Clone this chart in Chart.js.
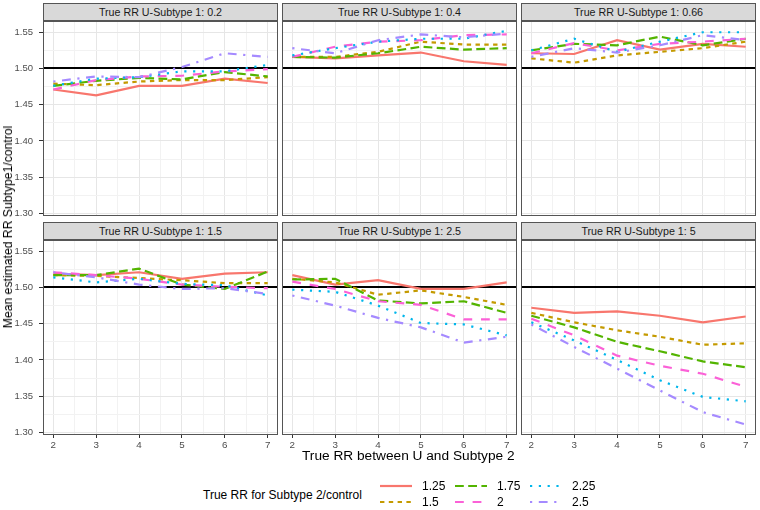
<!DOCTYPE html>
<html>
<head>
<meta charset="utf-8">
<script src="https://cdn.jsdelivr.net/npm/chart.js@4.4.1/dist/chart.umd.min.js"></script>
<style>
body { margin: 0; background: #fff; }
#wrap { position: relative; width: 760px; height: 510px; overflow: hidden; background: #fff;
        font-family: "Liberation Sans", Arial, sans-serif; }
.strip { position: absolute; height: 18px; box-sizing: border-box; border: 1px solid #555;
         background: #d9d9d9; color: #1a1a1a; font-size: 10.7px; line-height: 16px; text-align: center; }
canvas { position: absolute; }
.title { position: absolute; color: #000; white-space: nowrap; }
.lgtext { position: absolute; color: #000; font-size: 12px; white-space: nowrap; line-height: 14px; }
svg.key { position: absolute; }
</style>
</head>
<body>
<div id="wrap"></div>
<script>
// x axis: true RR between U and Subtype 2
var xValues = [2, 3, 4, 5, 6, 7];
// colour groups: true RR for Subtype 2/control
var subtype2Levels = ['1.25', '1.5', '1.75', '2', '2.25', '2.5'];
// facets: true RR U-Subtype 1
var facetLabels = ['0.2', '0.4', '0.66', '1.5', '2.5', '5'];
var refValue = 1.5;

// one row per subtype2 level (1.25 ... 2.5)
var rr_0_2 = [
    [1.471, 1.463, 1.476, 1.476, 1.486, 1.480],
    [1.479, 1.477, 1.482, 1.484, 1.484, 1.488],
    [1.476, 1.483, 1.487, 1.485, 1.495, 1.489],
    [1.471, 1.484, 1.489, 1.490, 1.496, 1.499],
    [1.476, 1.486, 1.488, 1.496, 1.496, 1.505],
    [1.482, 1.489, 1.488, 1.502, 1.521, 1.516]
];
var rr_0_4 = [
    [1.516, 1.514, 1.518, 1.522, 1.510, 1.505],
    [1.516, 1.516, 1.523, 1.537, 1.533, 1.533],
    [1.516, 1.515, 1.521, 1.530, 1.526, 1.528],
    [1.516, 1.530, 1.537, 1.539, 1.546, 1.547],
    [1.518, 1.528, 1.537, 1.541, 1.541, 1.552],
    [1.528, 1.521, 1.539, 1.547, 1.543, 1.548]
];
var rr_0_66 = [
    [1.521, 1.520, 1.539, 1.526, 1.534, 1.530],
    [1.514, 1.508, 1.518, 1.523, 1.528, 1.537],
    [1.525, 1.534, 1.532, 1.544, 1.532, 1.541],
    [1.521, 1.535, 1.525, 1.534, 1.537, 1.541],
    [1.525, 1.541, 1.523, 1.537, 1.550, 1.550],
    [1.516, 1.528, 1.522, 1.532, 1.546, 1.539]
];
var rr_1_5 = [
    [1.519, 1.517, 1.521, 1.512, 1.519, 1.521],
    [1.517, 1.516, 1.513, 1.510, 1.506, 1.506],
    [1.517, 1.517, 1.526, 1.504, 1.498, 1.522],
    [1.521, 1.517, 1.512, 1.504, 1.501, 1.499],
    [1.514, 1.507, 1.512, 1.505, 1.503, 1.489],
    [1.521, 1.514, 1.504, 1.498, 1.499, 1.491]
];
var rr_2_5 = [
    [1.517, 1.504, 1.510, 1.498, 1.498, 1.507],
    [1.512, 1.507, 1.490, 1.496, 1.487, 1.476],
    [1.511, 1.512, 1.482, 1.478, 1.481, 1.465],
    [1.508, 1.498, 1.481, 1.476, 1.456, 1.456],
    [1.497, 1.494, 1.475, 1.451, 1.449, 1.434],
    [1.489, 1.475, 1.458, 1.445, 1.424, 1.432]
];
var rr_5 = [
    [1.472, 1.465, 1.467, 1.461, 1.452, 1.460],
    [1.465, 1.452, 1.441, 1.432, 1.421, 1.423],
    [1.461, 1.445, 1.425, 1.412, 1.398, 1.390],
    [1.457, 1.434, 1.406, 1.392, 1.381, 1.363],
    [1.452, 1.427, 1.400, 1.372, 1.349, 1.343],
    [1.449, 1.418, 1.388, 1.358, 1.328, 1.311]
];
var facetData = [rr_0_2, rr_0_4, rr_0_66, rr_1_5, rr_2_5, rr_5];

// styles
var lineColors = ['#F8766D', '#C49A00', '#53B400', '#FB61D7', '#00B6EB', '#A58AFF'];
var lineDashes = [[], [4.4, 4.4], [8.8, 4.4], [8.8, 8.8], [2.2, 6.6], [2.2, 6.6, 8.8, 6.6]];
var lineW = 2.2;

// layout
var colLeft = [43, 282, 521];
var rowTop = [21, 240];
var panelW = 235, panelH = 195;
var yAxisW = 43, xAxisH = 16;
var stripH = 18;

var wrap = document.getElementById('wrap');

var panelFrame = {
    id: 'panelFrame',
    beforeDatasetsDraw: function (chart) {
        var ctx = chart.ctx, a = chart.chartArea;
        var y = Math.round(chart.scales.y.getPixelForValue(refValue));
        ctx.save();
        ctx.strokeStyle = '#000';
        ctx.lineWidth = 2;
        ctx.beginPath();
        ctx.moveTo(a.left, y);
        ctx.lineTo(a.right, y);
        ctx.stroke();
        ctx.restore();
    },
    afterDraw: function (chart) {
        var ctx = chart.ctx, a = chart.chartArea;
        ctx.save();
        ctx.strokeStyle = '#555';
        ctx.lineWidth = 1;
        ctx.strokeRect(a.left + 0.5, a.top + 0.5, a.right - a.left - 1, a.bottom - a.top - 1);
        ctx.restore();
    }
};

function isMajorY(v) { return Math.round(v * 1000) % 50 === 0; }
function isMajorX(v) { return Math.abs(v - Math.round(v)) < 1e-6; }

function makePanel(idx) {
    var r = Math.floor(idx / 3), c = idx % 3;
    var showY = c === 0, showX = r === 1;

    var strip = document.createElement('div');
    strip.className = 'strip';
    strip.style.left = colLeft[c] + 'px';
    strip.style.top = (rowTop[r] - stripH) + 'px';
    strip.style.width = panelW + 'px';
    strip.textContent = 'True RR U-Subtype 1: ' + facetLabels[idx];
    wrap.appendChild(strip);

    var cw = panelW + (showY ? yAxisW : 0);
    var ch = panelH + (showX ? xAxisH : 0);
    var cv = document.createElement('canvas');
    cv.width = cw; cv.height = ch;
    cv.style.left = (colLeft[c] - (showY ? yAxisW : 0)) + 'px';
    cv.style.top = rowTop[r] + 'px';
    cv.style.width = cw + 'px'; cv.style.height = ch + 'px';
    wrap.appendChild(cv);

    var series = facetData[idx];
    var datasets = subtype2Levels.map(function (lvl, i) {
        return {
            label: lvl,
            data: xValues.map(function (x, k) { return { x: x, y: series[i][k] }; }),
            borderColor: lineColors[i],
            borderWidth: lineW,
            borderDash: lineDashes[i],
            pointRadius: 0,
            tension: 0,
            fill: false,
            order: subtype2Levels.length - 1 - i
        };
    });

    new Chart(cv.getContext('2d'), {
        type: 'line',
        data: { datasets: datasets },
        options: {
            responsive: false,
            animation: false,
            devicePixelRatio: 1,
            layout: { padding: 0 },
            plugins: { legend: { display: false }, tooltip: { enabled: false } },
            scales: {
                x: {
                    type: 'linear', min: 1.76, max: 7.24,
                    afterFit: function (s) {
                        s.height = showX ? xAxisH : 0;
                        s.paddingLeft = 0; s.paddingRight = 0;
                    },
                    border: { display: false },
                    grid: {
                        color: function (ctx) { return isMajorX(ctx.tick.value) ? '#E6E6E6' : '#F2F2F2'; },
                        lineWidth: 1,
                        drawTicks: showX,
                        tickLength: 3,
                        tickColor: function (ctx) { return isMajorX(ctx.tick.value) ? '#333' : 'rgba(0,0,0,0)'; }
                    },
                    ticks: {
                        display: showX, stepSize: 0.5, autoSkip: false, includeBounds: false,
                        maxTicksLimit: 100, maxRotation: 0, padding: 1,
                        color: '#4D4D4D', font: { family: 'Liberation Sans', size: 9.8 },
                        callback: function (v) { return isMajorX(v) ? String(Math.round(v)) : ''; }
                    }
                },
                y: {
                    type: 'linear', min: 1.2965, max: 1.5655,
                    afterFit: function (s) {
                        s.width = showY ? yAxisW : 0;
                        s.paddingTop = 0; s.paddingBottom = 0;
                    },
                    border: { display: false },
                    grid: {
                        color: function (ctx) { return isMajorY(ctx.tick.value) ? '#E6E6E6' : '#F2F2F2'; },
                        lineWidth: 1,
                        drawTicks: showY,
                        tickLength: 4,
                        tickColor: function (ctx) { return isMajorY(ctx.tick.value) ? '#333' : 'rgba(0,0,0,0)'; }
                    },
                    ticks: {
                        display: showY, stepSize: 0.025, autoSkip: false, includeBounds: false,
                        maxTicksLimit: 100, padding: 6,
                        color: '#4D4D4D', font: { family: 'Liberation Sans', size: 9.5 },
                        callback: function (v) { return isMajorY(v) ? v.toFixed(2) : ''; }
                    }
                }
            }
        },
        plugins: [panelFrame]
    });
}

for (var p = 0; p < facetLabels.length; p++) makePanel(p);

// axis titles
var xt = document.createElement('div');
xt.className = 'title';
xt.style.fontSize = '13.7px';
xt.style.left = '302px';
xt.style.top = '448px';
xt.textContent = 'True RR between U and Subtype 2';
wrap.appendChild(xt);

var yt = document.createElement('div');
yt.className = 'title';
yt.style.fontSize = '12.2px';
yt.style.left = '7.5px';
yt.style.top = '227px';
yt.style.transform = 'translate(-50%, -50%) rotate(-90deg)';
yt.textContent = 'Mean estimated RR Subtype1/control';
wrap.appendChild(yt);

// legend
var lgTitle = document.createElement('div');
lgTitle.className = 'lgtext';
lgTitle.style.left = '203px';
lgTitle.style.top = '488px';
lgTitle.textContent = 'True RR for Subtype 2/control';
wrap.appendChild(lgTitle);

var keyLeft = [380, 455, 530], labLeft = [422, 497, 572], rowMid = [486, 502];
subtype2Levels.forEach(function (lvl, i) {
    var col = Math.floor(i / 2), row = i % 2;
    var svg = document.createElementNS('http://www.w3.org/2000/svg', 'svg');
    svg.setAttribute('class', 'key');
    svg.setAttribute('width', '32'); svg.setAttribute('height', '10');
    svg.style.left = keyLeft[col] + 'px';
    svg.style.top = (rowMid[row] - 5) + 'px';
    var ln = document.createElementNS('http://www.w3.org/2000/svg', 'line');
    ln.setAttribute('x1', '0'); ln.setAttribute('x2', '32');
    ln.setAttribute('y1', '5'); ln.setAttribute('y2', '5');
    ln.setAttribute('stroke', lineColors[i]);
    ln.setAttribute('stroke-width', lineW);
    if (lineDashes[i].length) ln.setAttribute('stroke-dasharray', lineDashes[i].join(' '));
    svg.appendChild(ln);
    wrap.appendChild(svg);

    var t = document.createElement('div');
    t.className = 'lgtext';
    t.style.left = labLeft[col] + 'px';
    t.style.top = (rowMid[row] - 7) + 'px';
    t.textContent = lvl;
    wrap.appendChild(t);
});
</script>
</body>
</html>
